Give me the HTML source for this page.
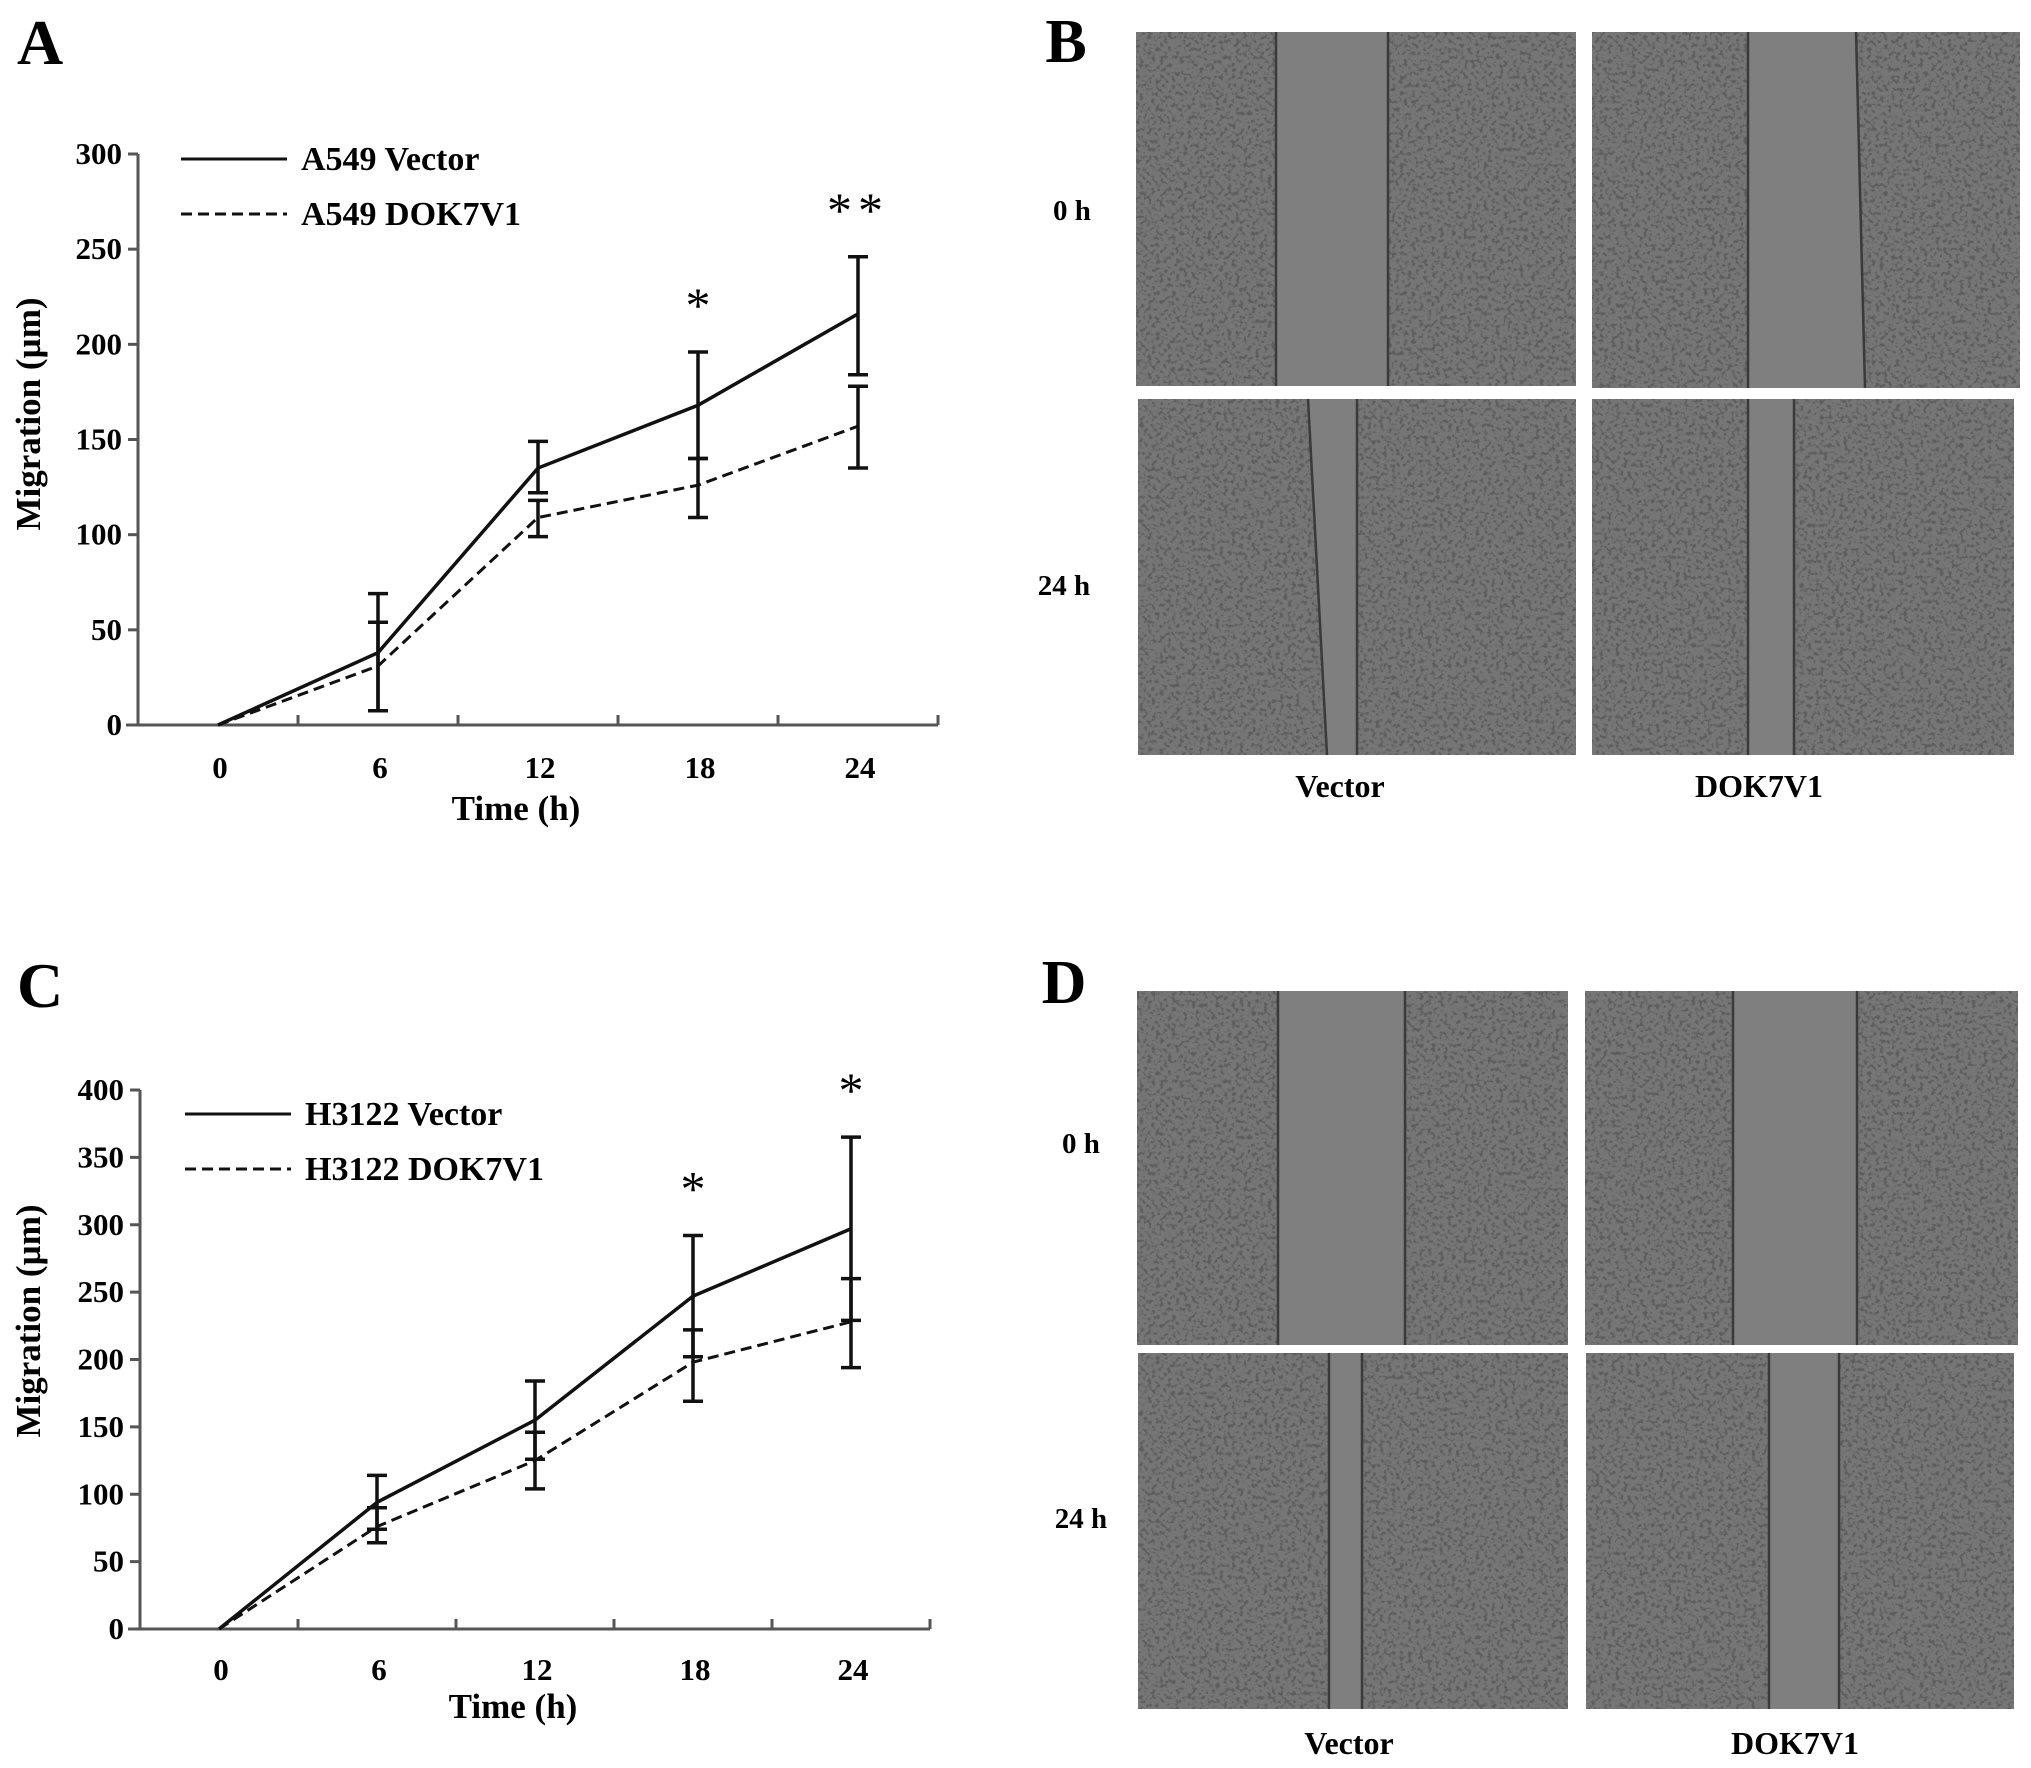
<!DOCTYPE html>
<html><head><meta charset="utf-8">
<style>
html,body{margin:0;padding:0;background:#fff;}
svg{display:block;font-family:"Liberation Serif",serif;font-weight:bold;}
</style></head>
<body>
<svg id="fig" width="2031" height="1768" viewBox="0 0 2031 1768" xmlns="http://www.w3.org/2000/svg">
<defs>
<filter id="tex" x="0" y="0" width="100%" height="100%" color-interpolation-filters="sRGB">
<feTurbulence type="fractalNoise" baseFrequency="0.25" numOctaves="2" seed="3" result="n"/>
<feColorMatrix in="n" type="matrix" values="0 0 0 0 0.25  0 0 0 0 0.25  0 0 0 0 0.25  0 0 0 5 -2.5" result="d"/>
<feComposite in="d" in2="SourceGraphic" operator="in"/>
</filter>
</defs>
<g id="panelA"></g>
<g id="panelC"></g>
<g id="images"></g>
</svg>
<script>
const NS="http://www.w3.org/2000/svg";
// ---- Panel A data ----
const categoriesA=["0","6","12","18","24"];
const vectorA=[0,38,135,168,216];
const vectorAHi=[0,69,149,196,246];
const vectorALo=[0,7.5,122,140,184];
const dokA=[0,31,109,126,157];
const dokAHi=[0,54,118,140,178];
const dokALo=[0,7.5,99,109,135];
const yTicksA=[0,50,100,150,200,250,300];
const starsA=["","","","*","**"];
// ---- Panel C data ----
const categoriesC=["0","6","12","18","24"];
const vectorC=[0,94,155,247,297];
const vectorCHi=[0,114,184,292,365];
const vectorCLo=[0,74,126,202,229];
const dokC=[0,76,125,198,228];
const dokCHi=[0,90,146,222,260];
const dokCLo=[0,64,104,169,194];
const yTicksC=[0,50,100,150,200,250,300,350,400];
const starsC=["","","","*","*"];

function mk(parent,tag,attrs,text){const e=document.createElementNS(NS,tag);for(const k in attrs)e.setAttribute(k,attrs[k]);if(text!==undefined)e.textContent=text;parent.appendChild(e);return e;}

function chart(g,cfg){
  const {x0,x1,y0,yTop,ymax,cats,ticks,ser,stars,leg,letter,letterY,ylabY,tickY,titleY,starOff}=cfg;
  const slot=(x1-x0)/cats.length;
  const X=i=>x0+slot*(i+0.5);
  const Y=v=>y0-(v/ymax)*(y0-yTop);
  let e;
  e=mk(g,"text",{x:17,y:letterY,"font-size":64});e.textContent=letter;
  
  
  e=mk(g,"line",{x1:x0,y1:y0,x2:x0,y2:yTop,stroke:"#555","stroke-width":3});
  
  
  e=mk(g,"line",{x1:x0-12,y1:y0,x2:x1,y2:y0,stroke:"#555","stroke-width":3});
  
  
  ticks.forEach(t=>{
    e=mk(g,"line",{x1:x0-10,y1:Y(t),x2:x0,y2:Y(t),stroke:"#555","stroke-width":3});
    
    
    e=mk(g,"text",{x:x0-16,y:Y(t)+10,"font-size":31,"text-anchor":"end"},String(t));
    
    
  });
  cats.forEach((c,i)=>{
    e=mk(g,"line",{x1:x0+slot*(i+1),y1:y0,x2:x0+slot*(i+1),y2:y0-10,stroke:"#555","stroke-width":3});
    
    
    e=mk(g,"text",{x:X(i)+2,y:tickY,"font-size":31,"text-anchor":"middle"},c);
    
    
  });
  e=mk(g,"text",{x:(x0+x1)/2-22,y:titleY,"font-size":35,"text-anchor":"middle"},"Time (h)");
  
  
  e=mk(g,"text",{x:0,y:0,"font-size":35,"text-anchor":"middle",transform:`translate(40,${ylabY}) rotate(-90)`},"Migration (µm)");
  
  
  ser.forEach(s=>{
    const pts=s.v.map((v,i)=>X(i)+","+Y(v)).join(" ");
    e=mk(g,"polyline",{points:pts,fill:"none",stroke:"#111","stroke-width":s.dash?3:3.5,"stroke-dasharray":s.dash?"11 6":"none"});
    
    
    s.v.forEach((v,i)=>{
      if(i===0)return;
      const x=X(i);
      e=mk(g,"path",{d:`M${x},${Y(s.hi[i])}V${Y(s.lo[i])}M${x-10},${Y(s.hi[i])}H${x+10}M${x-10},${Y(s.lo[i])}H${x+10}`,stroke:"#111","stroke-width":3.5,fill:"none"});
      
      
    });
  });
  stars.forEach((s,i)=>{
    if(!s)return;
    e=mk(g,"text",{x:X(i),y:Y(ser[0].hi[i])-starOff,"font-size":50,"text-anchor":"middle","font-weight":"normal","letter-spacing":s.length>1?6:0},s);
    
    
  });
  ser.forEach((s,k)=>{
    const ly=leg.y+k*leg.dy;
    e=mk(g,"line",{x1:leg.x,y1:ly,x2:leg.x+106,y2:ly,stroke:"#111","stroke-width":3,"stroke-dasharray":s.dash?"11 6":"none"});
    
    
    e=mk(g,"text",{x:leg.x+120,y:ly+11,"font-size":34},s.label);
    
    
  });
}
chart(document.getElementById("panelA"),{x0:138,x1:938,y0:725,yTop:154,ymax:300,cats:categoriesA,ticks:yTicksA,
  ser:[{name:"a549-vector",label:"A549 Vector",v:vectorA,hi:vectorAHi,lo:vectorALo,dash:false},
       {name:"a549-dok7v1",label:"A549 DOK7V1",v:dokA,hi:dokAHi,lo:dokALo,dash:true}],
  stars:starsA,leg:{x:181,y:159,dy:55},letter:"A",letterY:64,ylabY:414,tickY:778,titleY:820,starOff:30});
chart(document.getElementById("panelC"),{x0:140,x1:930,y0:1629,yTop:1090,ymax:400,cats:categoriesC,ticks:yTicksC,
  ser:[{name:"h3122-vector",label:"H3122 Vector",v:vectorC,hi:vectorCHi,lo:vectorCLo,dash:false},
       {name:"h3122-dok7v1",label:"H3122 DOK7V1",v:dokC,hi:dokCHi,lo:dokCLo,dash:true}],
  stars:starsC,leg:{x:185,y:1114,dy:55},letter:"C",letterY:1007,ylabY:1321,tickY:1680,titleY:1718,starOff:30});

// ---- Images ----
const ig=document.getElementById("images");
// x,y,w,h, leftEdgeBottom, rightEdgeBottom, leftEdgeTop, rightEdgeTop
const imgs=[
 [1136,32,440,354,1276,1388,1276,1388,"b-vector-0h"],
 [1592,32,428,356,1748,1865,1748,1856,"b-dok7v1-0h"],
 [1138,399,438,356,1327,1357,1308,1357,"b-vector-24h"],
 [1592,399,422,356,1748,1794,1748,1794,"b-dok7v1-24h"],
 [1137,991,431,354,1278,1405,1278,1405,"d-vector-0h"],
 [1585,991,433,354,1733,1857,1733,1857,"d-dok7v1-0h"],
 [1138,1353,430,356,1329,1362,1329,1362,"d-vector-24h"],
 [1586,1353,428,356,1769,1839,1769,1839,"d-dok7v1-24h"]];
imgs.forEach(m=>{
  const [x,y,w,h,gb1,gb2,gt1,gt2,name]=m;
  const g=mk(ig,"g",{});
  
  
  mk(g,"rect",{x,y,width:w,height:h,fill:"#767676"});
  mk(g,"rect",{x,y,width:w,height:h,fill:"#fff",filter:"url(#tex)",opacity:0.45});
  mk(g,"polygon",{points:`${gt1},${y} ${gt2},${y} ${gb2},${y+h} ${gb1},${y+h}`,fill:"#7f7f7f"});
  mk(g,"line",{x1:gt1,y1:y,x2:gb1,y2:y+h,stroke:"#3a3a3a","stroke-width":2.5});
  mk(g,"line",{x1:gt2,y1:y,x2:gb2,y2:y+h,stroke:"#3a3a3a","stroke-width":2.5});
});
const labels=[["B",1066,62,62,"panel-letter"],["D",1064,1003,62,"panel-letter"],
 ["0 h",1072,220,29,"row-label"],["24 h",1064,595,29,"row-label"],
 ["Vector",1340,797,32,"column-label"],["DOK7V1",1759,797,32,"column-label"],
 ["0 h",1081,1153,29,"row-label"],["24 h",1081,1528,29,"row-label"],
 ["Vector",1349,1754,32,"column-label"],["DOK7V1",1795,1754,32,"column-label"]];
labels.forEach(l=>{
  const e=mk(ig,"text",{x:l[1],y:l[2],"font-size":l[3],"text-anchor":"middle"},l[0]);
  
  
});
</script>
</body></html>
